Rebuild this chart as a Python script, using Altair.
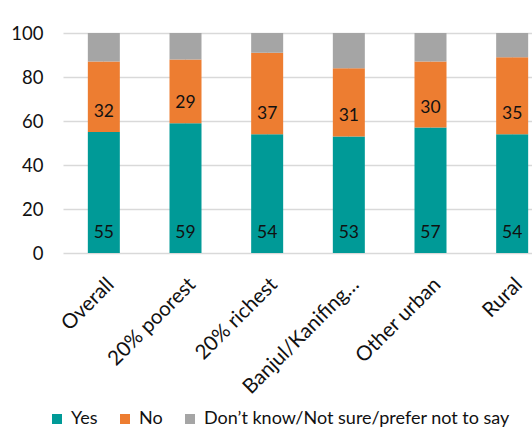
import altair as alt
import pandas as pd

categories = ["Overall", "20% poorest", "20% richest", "Banjul/Kanifing…", "Other urban", "Rural"]
series = ["Yes", "No", "Don’t know/Not sure/prefer not to say"]
yes = [55, 59, 54, 53, 57, 54]
no = [32, 29, 37, 31, 30, 35]
dk = [13, 12, 9, 16, 13, 11]
colors = ["#009A97", "#ED7D31", "#A5A5A5"]

rows = []
for i, c in enumerate(categories):
    vals = [yes[i], no[i], dk[i]]
    base = 0
    for j, s in enumerate(series):
        rows.append({"cat": c, "series": s, "value": vals[j], "order": j,
                     "base": base, "label": str(vals[j]) if j < 2 else ""})
        base += vals[j]
df = pd.DataFrame(rows)

FONT = "Lato"

x = alt.X("cat:N", sort=categories, title=None,
          scale=alt.Scale(range=[0, 490], paddingInner=0.61, paddingOuter=0.305),
          axis=alt.Axis(labelAngle=-45, labelFontSize=20.5, labelFont=FONT, labelColor="#111",
                        domain=False, ticks=False, labelPadding=21, labelLimit=300))

bars = alt.Chart(df).mark_bar(size=32).encode(
    x=x,
    y=alt.Y("value:Q", stack="zero", title=None,
            scale=alt.Scale(domain=[0, 100]),
            axis=alt.Axis(values=[0, 20, 40, 60, 80, 100], labelFontSize=18.5, labelFont=FONT,
                          labelColor="#111", domain=False, ticks=False, labelPadding=20,
                          gridColor="#D9D9D9", gridWidth=1.5)),
    color=alt.Color("series:N", sort=series,
                    scale=alt.Scale(domain=series, range=colors),
                    legend=alt.Legend(title=None, orient="none", direction="horizontal",
                                      legendX=-15, legendY=377, symbolType="square",
                                      symbolSize=100, symbolStrokeWidth=0,
                                      labelFontSize=18, labelFont=FONT, labelColor="#111",
                                      columnPadding=18, labelOffset=5, labelLimit=500)),
    order=alt.Order("order:Q"),
)

text = alt.Chart(df[df["label"] != ""]).mark_text(
    baseline="middle", dy=-20, fontSize=17.5, font=FONT, color="#111"
).encode(
    x=alt.X("cat:N", sort=categories),
    y=alt.Y("base:Q"),
    text="label:N",
)

chart = alt.layer(bars, text).properties(
    width=469, height=220,
    autosize=alt.AutoSizeParams(type="none"),
    padding={"left": 63, "top": 33, "right": 0, "bottom": 180},
).configure_view(stroke=None).configure_axis(grid=True)

chart.save("out.html", embed_options={"renderer": "svg", "actions": False})
